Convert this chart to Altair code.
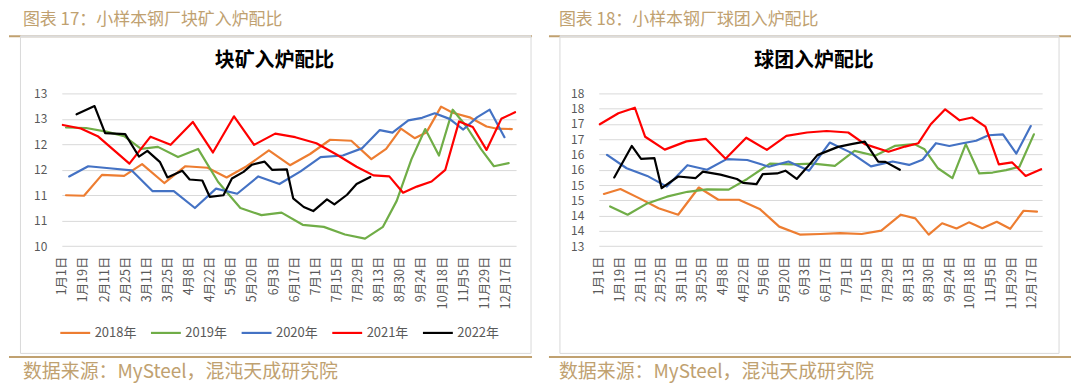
import json
import altair as alt
import pandas as pd

# ---------------- data ----------------
XLABELS = ["1月1日", "1月19日", "2月11日", "2月25日", "3月11日", "3月25日", "4月8日", "4月22日",
           "5月6日", "5月20日", "6月3日", "6月17日", "7月1日", "7月15日", "7月29日", "8月13日",
           "8月30日", "9月24日", "10月18日", "11月5日", "11月29日", "12月17日"]
YEARS = ["2018年", "2019年", "2020年", "2021年", "2022年"]
COLORS = ["#ED7D31", "#70AD47", "#4472C4", "#FF0000", "#000000"]

# left panel: 块矿入炉配比 (category position, value)
L18_X = [0.4, 2.1, 3.8, 5.9, 7.6, 9.7, 11.7, 13.8, 15.6, 17.5, 19.6, 21.6, 23.5, 25.4, 27.4, 29.3,
         30.7, 32.1, 33.4, 34.5, 35.9, 37.0, 38.6, 40.2, 41.1, 42.6]
L18_Y = [11.00, 10.99, 11.40, 11.38, 11.61, 11.24, 11.57, 11.54, 11.35, 11.57, 11.88, 11.59, 11.81,
         12.09, 12.07, 11.71, 11.91, 12.31, 12.12, 12.23, 12.74, 12.62, 12.53, 12.35, 12.31, 12.30]
L19_X = [0.4, 2.3, 4.2, 5.9, 7.5, 9.1, 11.0, 12.9, 14.8, 16.9, 18.9, 20.8, 22.8, 24.8, 26.8, 28.7,
         30.4, 31.7, 33.1, 34.4, 35.7, 37.0, 38.3, 39.7, 40.9, 42.3]
L19_Y = [12.33, 12.32, 12.25, 12.16, 11.91, 11.95, 11.75, 11.91, 11.26, 10.75, 10.61, 10.66, 10.42,
         10.38, 10.23, 10.15, 10.38, 10.89, 11.71, 12.30, 11.78, 12.68, 12.35, 11.90, 11.57, 11.63]
L20_X = [0.7, 2.5, 4.5, 6.6, 8.6, 10.6, 12.6, 14.6, 16.6, 18.6, 20.6, 22.6, 24.5, 26.6, 28.4, 30.1,
         31.3, 32.8, 34.1, 35.3, 36.7, 38.0, 39.3, 40.5, 41.9]
L20_Y = [11.37, 11.57, 11.53, 11.49, 11.08, 11.08, 10.75, 11.13, 11.03, 11.37, 11.22, 11.47, 11.75,
         11.78, 11.92, 12.28, 12.23, 12.47, 12.52, 12.61, 12.50, 12.29, 12.53, 12.68, 12.14]
L21_X = [0.1, 1.8, 3.4, 4.9, 6.4, 8.4, 10.3, 12.4, 14.3, 16.3, 18.2, 20.2, 22.1, 24.1, 26.0, 27.9,
         29.5, 31.0, 32.3, 33.6, 35.0, 36.3, 37.6, 38.9, 40.2, 41.6, 42.9]
L21_Y = [12.38, 12.31, 12.16, 11.89, 11.62, 12.15, 11.99, 12.44, 11.84, 12.55, 11.99, 12.21, 12.14,
         12.02, 11.80, 11.56, 11.39, 11.37, 11.05, 11.17, 11.27, 11.50, 12.45, 12.34, 11.89, 12.50, 12.63]
L22_X = [1.4, 3.1, 4.1, 6.0, 7.3, 8.1, 9.3, 10.0, 11.4, 12.1, 13.3, 14.0, 15.3, 16.1, 17.2, 18.0,
         19.2, 19.9, 21.3, 21.9, 22.9, 23.8, 25.1, 25.8, 27.0, 27.9, 29.2]
L22_Y = [12.59, 12.75, 12.22, 12.20, 11.76, 11.87, 11.65, 11.35, 11.48, 11.31, 11.29, 10.97, 11.00,
         11.33, 11.46, 11.60, 11.66, 11.50, 11.51, 10.94, 10.77, 10.69, 10.92, 10.82, 11.01, 11.22, 11.36]

# right panel: 球团入炉配比
R18_X = [0.5, 2.1, 4.1, 5.8, 7.7, 9.7, 11.6, 13.6, 15.6, 17.5, 19.5, 21.5, 23.4, 25.5, 27.4, 29.3,
         30.7, 32.0, 33.3, 34.7, 35.9, 37.2, 38.6, 39.9, 41.2, 42.5]
R18_Y = [14.71, 14.87, 14.54, 14.24, 14.03, 14.92, 14.52, 14.52, 14.22, 13.64, 13.38, 13.40, 13.43,
         13.40, 13.51, 14.03, 13.91, 13.38, 13.75, 13.58, 13.78, 13.59, 13.80, 13.57, 14.16, 14.13]
R19_X = [1.1, 2.8, 4.7, 6.6, 8.6, 10.5, 12.6, 14.4, 16.6, 18.7, 20.8, 22.9, 24.8, 26.8, 28.7, 30.6,
         31.6, 32.9, 34.3, 35.6, 36.9, 38.2, 39.5, 40.8, 42.2]
R19_Y = [14.30, 14.03, 14.40, 14.62, 14.78, 14.86, 14.85, 15.20, 15.70, 15.68, 15.70, 15.63, 16.12,
         15.96, 16.28, 16.34, 16.17, 15.55, 15.23, 16.34, 15.38, 15.41, 15.49, 15.60, 16.66]
R20_X = [0.8, 2.7, 4.7, 6.6, 8.6, 10.5, 12.4, 14.4, 16.5, 18.4, 20.4, 22.4, 24.4, 26.4, 28.5, 30.1,
         31.4, 32.7, 34.0, 35.3, 36.6, 37.8, 39.2, 40.5, 41.9]
R20_Y = [15.99, 15.55, 15.30, 14.95, 15.65, 15.50, 15.85, 15.82, 15.60, 15.77, 15.47, 16.39, 16.07,
         15.61, 15.77, 15.66, 15.83, 16.37, 16.28, 16.37, 16.45, 16.63, 16.66, 16.03, 16.93]
R21_X = [0.1, 1.9, 3.5, 4.5, 6.4, 8.5, 10.4, 12.3, 14.3, 16.3, 18.2, 20.2, 22.1, 24.2, 25.8, 28.1,
         29.7, 31.0, 32.2, 33.6, 35.0, 36.2, 37.5, 38.8, 40.1, 41.4, 42.9]
R21_Y = [16.99, 17.35, 17.53, 16.58, 16.16, 16.43, 16.51, 15.86, 16.55, 16.15, 16.61, 16.72, 16.77,
         16.72, 16.34, 16.09, 16.26, 16.37, 16.99, 17.48, 17.12, 17.21, 16.91, 15.68, 15.74, 15.30, 15.52]
R22_X = [1.5, 3.2, 4.1, 5.4, 6.1, 7.7, 9.4, 10.1, 11.8, 13.4, 14.0, 15.3, 15.9, 17.3, 18.1, 19.2,
         20.2, 21.2, 23.2, 24.5, 25.8, 27.1, 27.8, 29.2]
R22_Y = [15.25, 16.28, 15.86, 15.88, 14.90, 15.28, 15.23, 15.44, 15.34, 15.20, 15.07, 15.03, 15.36,
         15.38, 15.47, 15.20, 15.58, 15.98, 16.25, 16.34, 16.42, 15.77, 15.76, 15.50]

L_TICKS = [10, 10.5, 11, 11.5, 12, 12.5, 13]
R_TICKS = [13, 13.5, 14, 14.5, 15, 15.5, 16, 16.5, 17, 17.5, 18]

# ---------------- style ----------------
FONT = "Noto Sans CJK SC"
TAN = "#c0a170"
GRAY_TXT = "#595959"
GRID = "#d9d9d9"


def build_df(xs, ys):
    rows = []
    for yr, xa, ya in zip(YEARS, xs, ys):
        for a, b in zip(xa, ya):
            rows.append({"pos": a, "val": b, "year": yr})
    return pd.DataFrame(rows)


def one(text):
    return pd.DataFrame({"t": [text]})


def panel(df, width, height, ydomain, yticks, header, title, footer, g):
    label_expr = json.dumps(XLABELS, ensure_ascii=False) + "[round(datum.value / 2)]"
    lines = alt.Chart(df).mark_line(strokeJoin="round", strokeCap="round").encode(
        x=alt.X("pos:Q", scale=alt.Scale(domain=[0, 43], nice=False, zero=False),
                axis=alt.Axis(values=list(range(0, 43, 2)), labelExpr=label_expr, labelAngle=-90,
                              grid=False, domain=False, ticks=False, labelPadding=10,
                              labelFont=FONT, labelFontSize=12.5, labelColor=GRAY_TXT,
                              labelOverlap=False, labelFlush=False, title=None)),
        y=alt.Y("val:Q", scale=alt.Scale(domain=ydomain, nice=False, zero=False),
                axis=alt.Axis(values=yticks, format=".0f", grid=True, gridColor=GRID, gridWidth=1,
                              domain=False, ticks=False, labelPadding=15, labelFont=FONT,
                              labelFontSize=12, labelColor=GRAY_TXT, title=None)),
        color=alt.Color("year:N", scale=alt.Scale(domain=YEARS, range=COLORS),
                        legend=alt.Legend(orient="none", legendX=g["legend"][0], legendY=g["legend"][1],
                                          direction="horizontal", title=None, symbolType="stroke",
                                          symbolSize=900, symbolStrokeWidth=2.5, labelFont=FONT,
                                          labelFontSize=13, labelColor=GRAY_TXT, labelOffset=3,
                                          columnPadding=g["colpad"], padding=0)),
        strokeWidth=alt.StrokeWidth("year:N", scale=alt.Scale(domain=YEARS, range=[2.2, 2.2, 2.2, 2.2, 3.2]),
                                    legend=None),
    )
    fx0, fx1, fy0, fy1 = g["frame"]
    pin = alt.Chart(one("")).mark_rect(fill="white", opacity=0).encode(
        x=alt.value(g["pin"][0]), x2=alt.value(g["pin"][1]),
        y=alt.value(g["pin"][2]), y2=alt.value(g["pin"][3]))
    rule_top = alt.Chart(one("")).mark_rule(color=TAN, strokeWidth=2).encode(
        x=alt.value(g["gold"][0]), x2=alt.value(g["gold"][1]), y=alt.value(g["gold"][2]))
    rule_bot = alt.Chart(one("")).mark_rule(color=TAN, strokeWidth=2).encode(
        x=alt.value(g["gold"][0]), x2=alt.value(g["gold"][1]), y=alt.value(g["gold"][3]))
    frame = alt.Chart(one("")).mark_rect(fillOpacity=0, stroke=GRID, strokeWidth=1).encode(
        x=alt.value(fx0), x2=alt.value(fx1), y=alt.value(fy0), y2=alt.value(fy1))
    frame_top = alt.Chart(one("")).mark_rule(color="#dcdcdc", strokeWidth=2.2).encode(
        x=alt.value(fx0), x2=alt.value(fx1), y=alt.value(fy0))
    head = alt.Chart(one(header)).mark_text(align="left", baseline="middle", font=FONT, fontSize=17,
                                            color=TAN).encode(
        x=alt.value(g["head"][0]), y=alt.value(g["head"][1]), text="t:N")
    foot = alt.Chart(one(footer)).mark_text(align="left", baseline="middle", font=FONT, fontSize=19,
                                            color=TAN).encode(
        x=alt.value(g["foot"][0]), y=alt.value(g["foot"][1]), text="t:N")
    ttl = alt.Chart(one(title)).mark_text(align="center", baseline="middle", font=FONT, fontSize=20,
                                          fontWeight="bold", color="#000000").encode(
        x=alt.value(g["title"][0]), y=alt.value(g["title"][1]), text="t:N")
    return alt.layer(pin, rule_top, rule_bot, frame, frame_top, lines, head, foot, ttl).properties(
        width=width, height=height)


left_df = build_df([L18_X, L19_X, L20_X, L21_X, L22_X], [L18_Y, L19_Y, L20_Y, L21_Y, L22_Y])
right_df = build_df([R18_X, R19_X, R20_X, R21_X, R22_X], [R18_Y, R19_Y, R20_Y, R21_Y, R22_Y])

g_left = {
    "pin": [-53, 472, -84.3, 289.7],
    "frame": [-41.5, 471, -57.3, 261],
    "gold": [-53, 472, -57.3, 264.7],
    "head": [-39, -73.3],
    "foot": [-39, 280.1],
    "title": [213.5, -32.3],
    "legend": [-3, 223.7],
    "colpad": 10,
}
g_right = {
    "pin": [-50, 474, -84.3, 289.7],
    "frame": [-39, 462, -57.3, 261],
    "gold": [-50, 474, -57.3, 264.7],
    "head": [-40, -73.3],
    "foot": [-40, 280.1],
    "title": [216, -32.3],
    "legend": [1, 223.7],
    "colpad": 8,
}

left = panel(left_df, 456, 153.4, [10, 13], L_TICKS,
             "图表 17：小样本钢厂块矿入炉配比", "块矿入炉配比", "数据来源：MySteel，混沌天成研究院", g_left)
right = panel(right_df, 445, 153.4, [13, 18], R_TICKS,
              "图表 18：小样本钢厂球团入炉配比", "球团入炉配比", "数据来源：MySteel，混沌天成研究院", g_right)

chart = alt.hconcat(left, right, spacing=15).properties(padding=0).configure_view(strokeWidth=0)

chart.save("out.html", embed_options={"renderer": "svg", "actions": False})
